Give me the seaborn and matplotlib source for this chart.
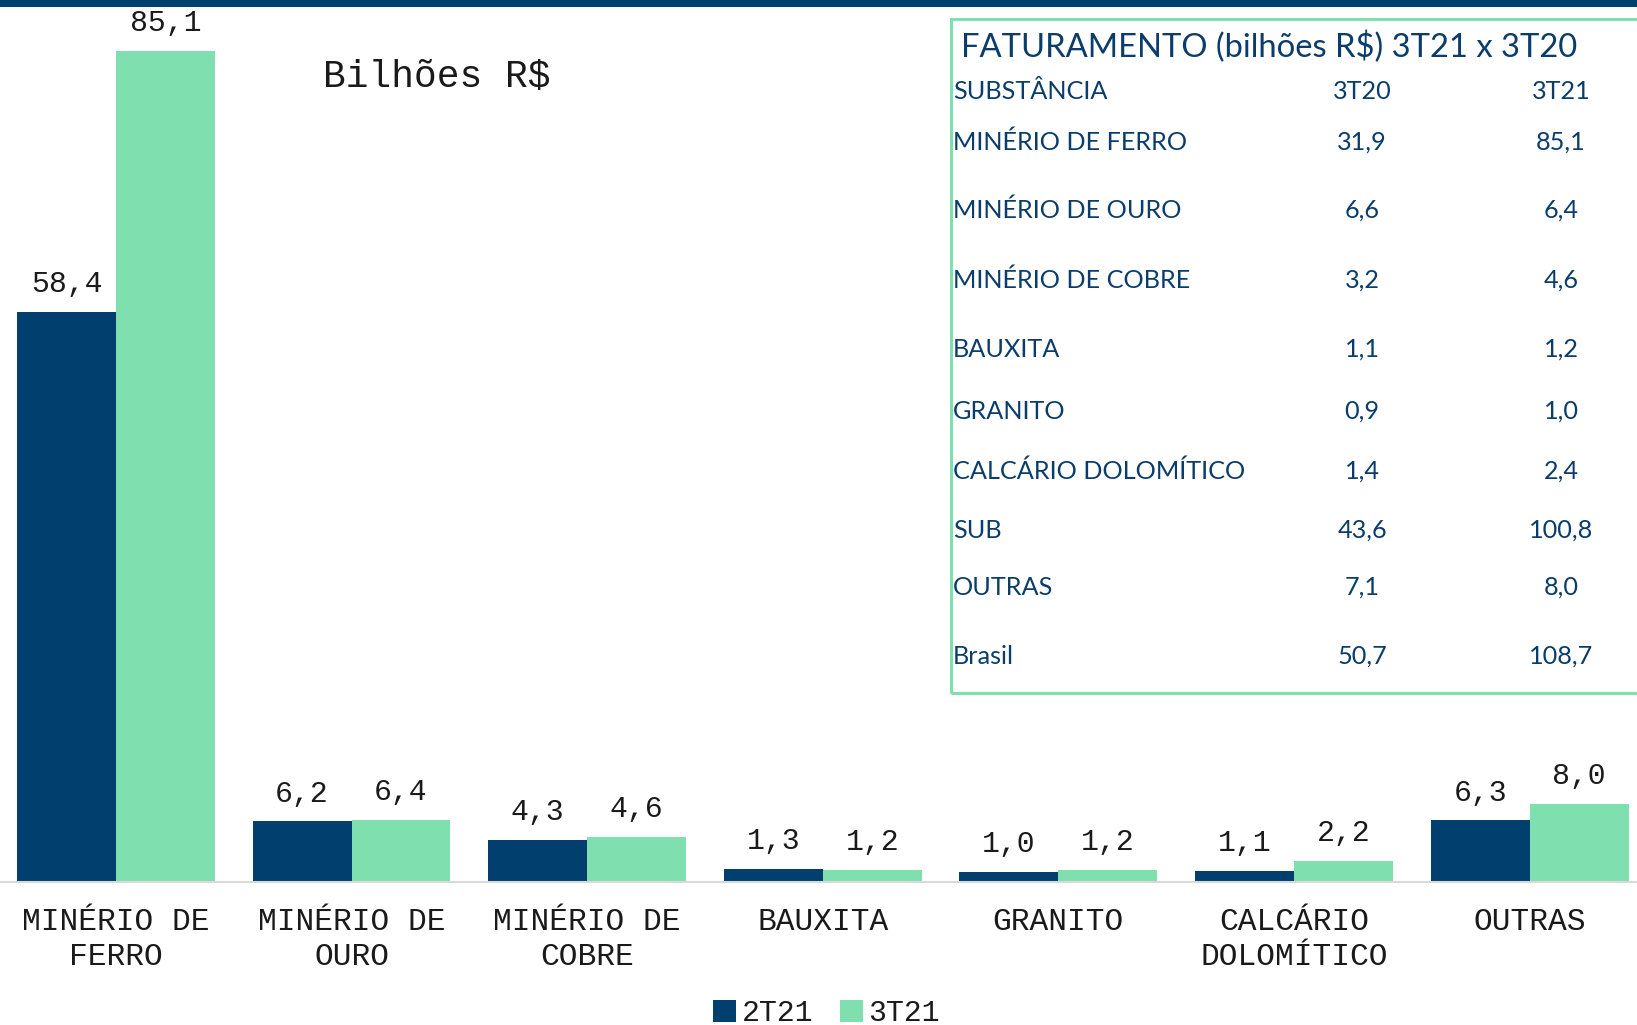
import matplotlib
matplotlib.use("Agg")
import matplotlib.pyplot as plt
import seaborn as sns
import pandas as pd
from matplotlib.patches import Rectangle, Patch

categories = ["MINÉRIO DE\nFERRO", "MINÉRIO DE\nOURO", "MINÉRIO DE\nCOBRE", "BAUXITA",
              "GRANITO", "CALCÁRIO\nDOLOMÍTICO", "OUTRAS"]
series = ["2T21", "3T21"]
values_2t21 = [58.4, 6.2, 4.3, 1.3, 1.0, 1.1, 6.3]
values_3t21 = [85.1, 6.4, 4.6, 1.2, 1.2, 2.2, 8.0]

table_title = "FATURAMENTO (bilhões R$) 3T21 x 3T20"
table_header = ["SUBSTÂNCIA", "3T20", "3T21"]
table_labels = ["MINÉRIO DE FERRO", "MINÉRIO DE OURO", "MINÉRIO DE COBRE", "BAUXITA",
                "GRANITO", "CALCÁRIO DOLOMÍTICO", "SUB", "OUTRAS", "Brasil"]
table_3t20 = ["31,9", "6,6", "3,2", "1,1", "0,9", "1,4", "43,6", "7,1", "50,7"]
table_3t21 = ["85,1", "6,4", "4,6", "1,2", "1,0", "2,4", "100,8", "8,0", "108,7"]

DARK = "#003F6E"
GREEN = "#80DFAF"
TXT = "#0A3C6C"
MONO = "Liberation Mono"
SANS = "Lato"
LBL = "#1a1a1a"

sns.set_theme(style="white")
plt.rcParams["font.family"] = [MONO, "DejaVu Sans"]

W, H = 1637, 1025
fig = plt.figure(figsize=(W / 100, H / 100), dpi=100)
fig.patch.set_facecolor("white")

base_px = 882
ax = fig.add_axes([0, (H - base_px) / H, 1, base_px / H])

df = pd.DataFrame({
    "cat": categories * 2,
    "serie": [series[0]] * len(categories) + [series[1]] * len(categories),
    "val": values_2t21 + values_3t21,
})
sns.barplot(data=df, x="cat", y="val", hue="serie", palette=[DARK, GREEN],
            width=0.84, linewidth=0, legend=False, ax=ax, errorbar=None,
            saturation=1)

ax.set_xlim(-0.492, 6.456)
ax.set_ylim(0, 90.32)
ax.set_xlabel("")
ax.set_ylabel("")
ax.set_yticks([])
for s in ["top", "left", "right"]:
    ax.spines[s].set_visible(False)
ax.spines["bottom"].set_color("#d9d9d9")
ax.spines["bottom"].set_linewidth(1.5)
ax.tick_params(axis="x", length=0, pad=18, labelsize=22.5, labelcolor=LBL)
for t in ax.get_xticklabels():
    t.set_fontfamily(MONO)
    t.set_linespacing(1.2)
    t.set_multialignment("center")

for cont, vals in zip(ax.containers, [values_2t21, values_3t21]):
    labels = [f"{v:.1f}".replace(".", ",") for v in vals]
    ax.bar_label(cont, labels=labels, padding=10, fontsize=21.5,
                 fontfamily=MONO, color=LBL)

ax.text(323 / W, 1 - 77 / base_px, "Bilhões R$", transform=ax.transAxes,
        fontsize=27.3, fontfamily=MONO, color=LBL, va="center", ha="left")

# top band
fig.add_artist(Rectangle((0, 1 - 7 / H), 1, 7 / H, transform=fig.transFigure,
                         facecolor=DARK, edgecolor="none"))

# legend
handles = [Patch(facecolor=DARK, edgecolor="none"), Patch(facecolor=GREEN, edgecolor="none")]
leg = fig.legend(handles, series, loc="center", bbox_to_anchor=(0.505, 0.0115),
                 ncol=2, frameon=False, handlelength=0.75, handleheight=0.75,
                 handletextpad=0.2, columnspacing=0.9,
                 prop={"family": MONO, "size": 21.5})
for t in leg.get_texts():
    t.set_color(LBL)

# table box
left_px, top_px, bot_px = 951, 19, 693
fig.add_artist(Rectangle((left_px / W, 1 - bot_px / H), (W - left_px + 20) / W,
                         (bot_px - top_px) / H, transform=fig.transFigure,
                         fill=False, edgecolor=GREEN, linewidth=2.2, clip_on=False))

def ftext(xp, yp, s, **kw):
    fig.text(xp / W, 1 - yp / H, s, color=TXT, fontfamily=SANS, va="baseline", **kw)

ftext(961, 57, table_title, fontsize=23.6, ha="left")
ftext(953, 99, table_header[0], fontsize=18.2, ha="left")
ftext(1362, 99, table_header[1], fontsize=18.2, ha="center")
ftext(1561, 99, table_header[2], fontsize=18.2, ha="center")
row_base = [150, 218, 288, 357, 419, 479, 538, 595, 664]
for yb, lab, a, b in zip(row_base, table_labels, table_3t20, table_3t21):
    ftext(953, yb, lab, fontsize=18.2, ha="left")
    ftext(1362, yb, a, fontsize=18.2, ha="center")
    ftext(1561, yb, b, fontsize=18.2, ha="center")

fig.savefig("out.png", dpi=100)
